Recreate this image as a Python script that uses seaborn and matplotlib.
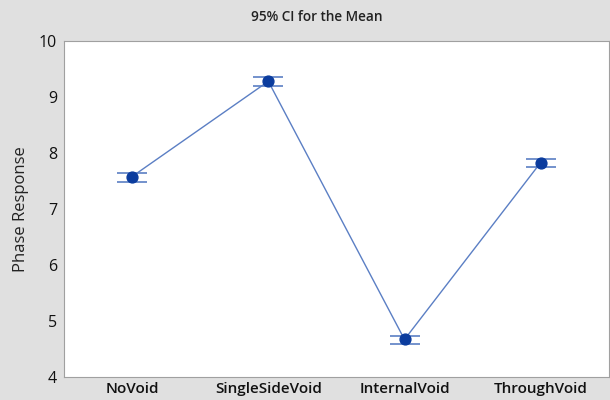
import matplotlib
matplotlib.use("Agg")
import matplotlib.pyplot as plt
import seaborn as sns
import pandas as pd

# Group means and 95% confidence bounds
groups = ["NoVoid", "SingleSideVoid", "InternalVoid", "ThroughVoid"]
means = [7.58, 9.28, 4.67, 7.83]
ci_low = [7.49, 9.20, 4.59, 7.75]
ci_high = [7.65, 9.35, 4.74, 7.90]
y_ticks = [4, 5, 6, 7, 8, 9, 10]

df = pd.DataFrame({"group": groups, "mean": means})

sns.set_style("white")
plt.rcParams["font.family"] = ["Open Sans", "DejaVu Sans"]

line_color = "#5b7fc4"
dot_color = "#0b3c9e"

fig = plt.figure(figsize=(6.1, 4.0), dpi=100, facecolor="#e0e0e0")
ax = fig.add_axes([0.105, 0.0575, 0.893, 0.84])
ax.set_facecolor("white")

sns.pointplot(data=df, x="group", y="mean", errorbar=None, color=line_color,
              markers="", linewidth=1.0, ax=ax, zorder=2)

xpos = list(range(len(groups)))
lower = [m - lo for m, lo in zip(means, ci_low)]
upper = [hi - m for m, hi in zip(means, ci_high)]
ax.errorbar(xpos, means, yerr=[lower, upper], fmt="none", ecolor=line_color,
            elinewidth=1.0, capsize=11, capthick=1.2, zorder=3)
ax.plot(xpos, means, "o", color=dot_color, markersize=7.8, zorder=4)

ax.set_xlim(-0.5, 3.5)
ax.set_ylim(4, 10)
ax.set_yticks(y_ticks)
ax.set_xlabel("")
ax.set_ylabel("Phase Response", fontsize=12, color="#222222", labelpad=7)
ax.tick_params(axis="both", which="both", length=3, width=0.8, color="#999999",
               labelsize=11.5, labelcolor="#111111", pad=2, direction="out")
ax.tick_params(axis="x", pad=0.5, labelsize=11)
for lbl in ax.get_xticklabels():
    lbl.set_fontweight("semibold")
for s in ax.spines.values():
    s.set_color("#a0a0a0")
    s.set_linewidth(0.8)

fig.text(0.52, 1 - 17 / 400, "95% CI for the Mean", ha="center", va="center",
         fontsize=9.8, fontweight="semibold", color="#222222")

fig.savefig("out.png", dpi=100, facecolor=fig.get_facecolor())
